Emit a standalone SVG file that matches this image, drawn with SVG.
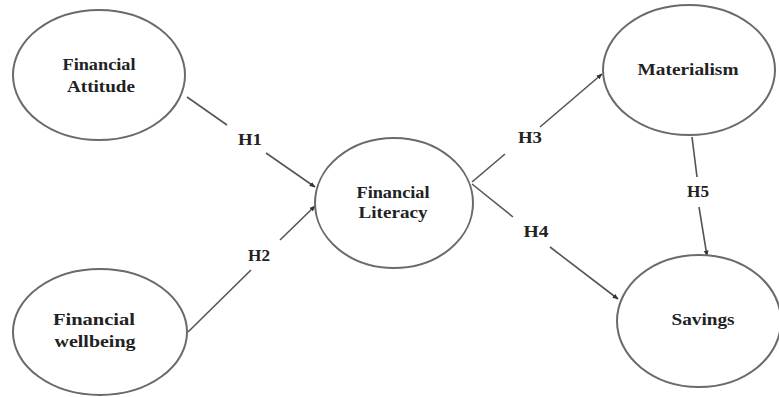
<svg xmlns="http://www.w3.org/2000/svg" width="779" height="397" viewBox="0 0 779 397">
<style>
.node{fill:#fff;stroke:#6a6a6a;stroke-width:2}
.t{font-family:"Liberation Serif","Times New Roman",serif;font-weight:bold;font-size:16.5px;fill:#222;text-anchor:middle}
.c{stroke:#555;stroke-width:1.6;fill:none}
</style>
<defs>
<marker id="ah" viewBox="0 0 10 10" refX="9" refY="5" markerWidth="6" markerHeight="6" markerUnits="userSpaceOnUse" orient="auto">
<path d="M0,1 L10,5 L0,9 Z" fill="#333"/>
</marker>
</defs>
<rect width="779" height="397" fill="#fff"/>
<g id="connectors">
<line class="c" x1="187" y1="97" x2="227" y2="125"/>
<line class="c" x1="266" y1="153" x2="315" y2="187" marker-end="url(#ah)"/>
<line class="c" x1="188" y1="332" x2="251" y2="270"/>
<line class="c" x1="280" y1="240" x2="315" y2="206" marker-end="url(#ah)"/>
<line class="c" x1="472" y1="182" x2="505" y2="154"/>
<line class="c" x1="540" y1="127" x2="602" y2="74" marker-end="url(#ah)"/>
<line class="c" x1="472" y1="184" x2="513" y2="217"/>
<line class="c" x1="550" y1="247" x2="618" y2="299" marker-end="url(#ah)"/>
<line class="c" x1="692" y1="137" x2="697" y2="177"/>
<line class="c" x1="699" y1="207" x2="707" y2="256" marker-end="url(#ah)"/>
<text class="t" x="250" y="145" textLength="24" lengthAdjust="spacingAndGlyphs">H1</text>
<text class="t" x="259" y="261" textLength="22" lengthAdjust="spacingAndGlyphs">H2</text>
<text class="t" x="530" y="143" textLength="24" lengthAdjust="spacingAndGlyphs">H3</text>
<text class="t" x="536" y="237" textLength="25" lengthAdjust="spacingAndGlyphs">H4</text>
<text class="t" x="698" y="197" textLength="22" lengthAdjust="spacingAndGlyphs">H5</text>
</g>
<g id="financial-attitude">
<ellipse class="node" cx="99" cy="75" rx="86" ry="65"/>
<text class="t" x="99" y="70" textLength="73" lengthAdjust="spacingAndGlyphs">Financial</text>
<text class="t" x="101" y="92" textLength="68" lengthAdjust="spacingAndGlyphs">Attitude</text>
</g>
<g id="financial-wellbeing">
<ellipse class="node" cx="100" cy="332" rx="87" ry="63"/>
<text class="t" x="94" y="325" textLength="82" lengthAdjust="spacingAndGlyphs">Financial</text>
<text class="t" x="95" y="347" textLength="81" lengthAdjust="spacingAndGlyphs">wellbeing</text>
</g>
<g id="financial-literacy">
<ellipse class="node" cx="394" cy="203" rx="79" ry="65"/>
<text class="t" x="393" y="198" textLength="73" lengthAdjust="spacingAndGlyphs">Financial</text>
<text class="t" x="393" y="218" textLength="69" lengthAdjust="spacingAndGlyphs">Literacy</text>
</g>
<g id="materialism">
<ellipse class="node" cx="689" cy="70" rx="86" ry="65"/>
<text class="t" x="688" y="75" textLength="101" lengthAdjust="spacingAndGlyphs">Materialism</text>
</g>
<g id="savings">
<ellipse class="node" cx="699" cy="321" rx="82" ry="66"/>
<text class="t" x="703" y="325" textLength="63" lengthAdjust="spacingAndGlyphs">Savings</text>
</g>
</svg>
